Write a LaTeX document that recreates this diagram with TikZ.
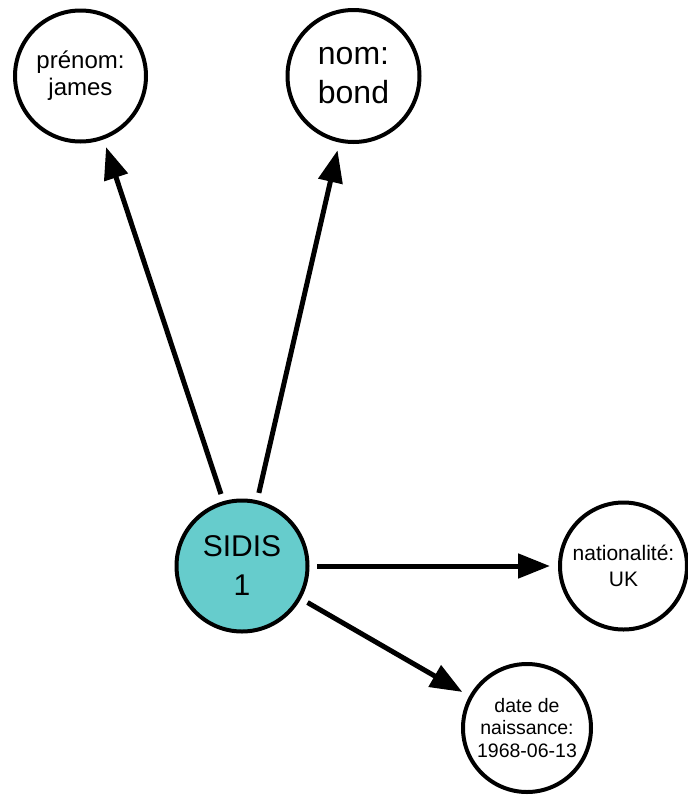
\documentclass[tikz,border=0pt]{standalone}
\usepackage{fontspec}
\setmainfont{Liberation Sans}
\usetikzlibrary{arrows.meta}
\definecolor{sidisteal}{RGB}{102,204,204}
\tikzset{
  attr/.style={circle, draw=black, line width=4pt, fill=white, inner sep=0pt,
    outer sep=0pt, minimum size=#1, align=center},
  link/.style={line width=5pt, -{Triangle[length=32pt, width=24pt]},
    shorten <=9.5pt, shorten >=10pt},
}

\begin{document}
\begin{tikzpicture}[x=1pt, y=-1pt]
    \useasboundingbox (0,0) rectangle (688,796);
    \node[attr=131pt, font=\fontsize{24}{27}\selectfont] (prenom) at (80.5,76) {prénom:\\james};
    \node[attr=132pt, font=\fontsize{32}{39}\selectfont] (nom) at (353.5,76) {nom:\\bond};
    \node[attr=131pt, fill=sidisteal, font=\fontsize{30}{39}\selectfont] (sidis) at (242,566) {SIDIS\\1};
    \node[attr=127pt, font=\fontsize{21}{26}\selectfont] (nationalite) at (623.5,566) {nationalité:\\UK};
    \node[attr=128pt, font=\fontsize{19.5}{22.5}\selectfont] (naissance) at (527,728) {date de\\naissance:\\1968-06-13};
    \draw[link] (sidis.106.8) -- (prenom.-70.5);
    \draw[link] (sidis.77) -- (nom.-102.6);
    \draw[link] (sidis.east) -- (nationalite.west);
    \draw[link] (sidis.-29.7) -- (naissance.151.8);
\end{tikzpicture}
\end{document}
